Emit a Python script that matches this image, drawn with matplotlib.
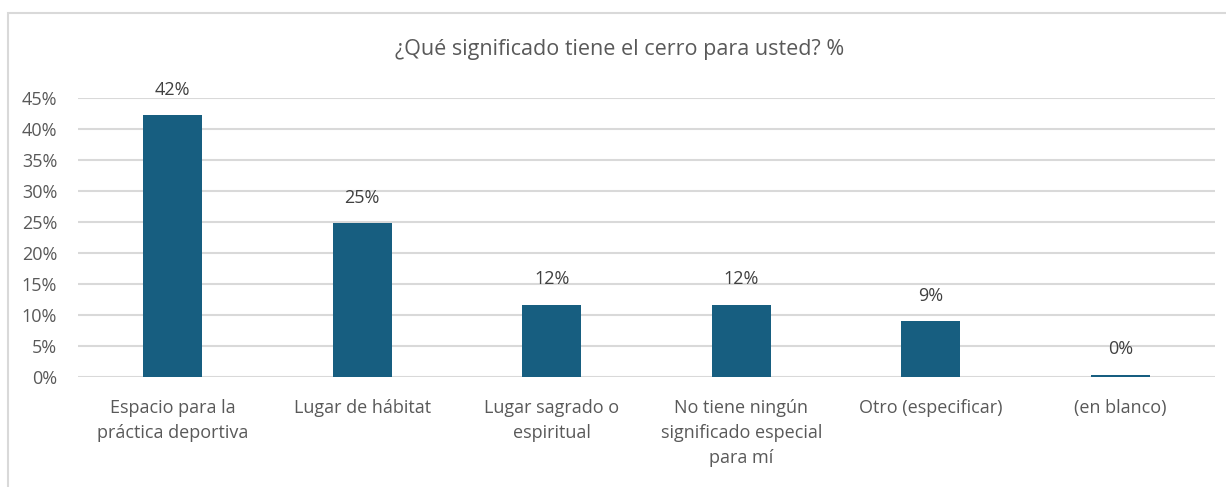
import matplotlib.pyplot as plt
from matplotlib.patches import Rectangle
from matplotlib.ticker import FuncFormatter

plt.rcParams['font.family'] = ['Open Sans', 'DejaVu Sans']

# datos del gráfico
categorias = ['Espacio para la\npráctica deportiva', 'Lugar de hábitat', 'Lugar sagrado o\nespiritual',
              'No tiene ningún\nsignificado especial\npara mí', 'Otro (especificar)', '(en blanco)']
valores = [0.422, 0.248, 0.116, 0.116, 0.090, 0.003]
etiquetas = ['42%', '25%', '12%', '12%', '9%', '0%']
titulo = '¿Qué significado tiene el cerro para usted? %'

color_barra = '#175e80'
color_texto = '#595959'
color_grid = '#d9d9d9'

fig = plt.figure(figsize=(12.26, 4.87), dpi=100, facecolor='white')
ax = fig.add_axes([78 / 1226, 1 - 377 / 487, (1215 - 78) / 1226, (377 - 98) / 487])

x = range(len(categorias))
ax.bar(x, valores, width=0.31, color=color_barra, zorder=3)

# etiquetas de datos encima de cada barra
for i, (v, t) in enumerate(zip(valores, etiquetas)):
    ax.annotate(t, (i, v), xytext=(0, 18.5), textcoords='offset points', ha='center', va='center',
                fontsize=13, color='#404040')

ax.set_xlim(-0.5, len(categorias) - 0.5)
ax.set_ylim(0, 0.45)
ax.set_yticks([i * 0.05 for i in range(10)])
ax.yaxis.set_major_formatter(FuncFormatter(lambda v, p: f'{v * 100:.0f}%'))
ax.set_xticks(list(x))
ax.set_xticklabels(categorias, linespacing=1.5, va='top')

ax.grid(axis='y', color=color_grid, linewidth=1.5, zorder=0)
for s in ax.spines.values():
    s.set_visible(False)
ax.tick_params(axis='both', length=0, labelsize=13, labelcolor=color_texto)
ax.tick_params(axis='y', pad=15)
ax.tick_params(axis='x', pad=16)

fig.text(620 / 1226, 1 - 50 / 487, titulo, ha='center', va='center', fontsize=15.5, color=color_texto)

# borde del área del gráfico
fig.patches.append(Rectangle((8 / 1226, -0.1), 1.1, 1 - 13 / 487 + 0.1, transform=fig.transFigure,
                             fill=False, edgecolor=color_grid, linewidth=1.5))

plt.savefig('out.png', facecolor=fig.get_facecolor())
plt.close()
